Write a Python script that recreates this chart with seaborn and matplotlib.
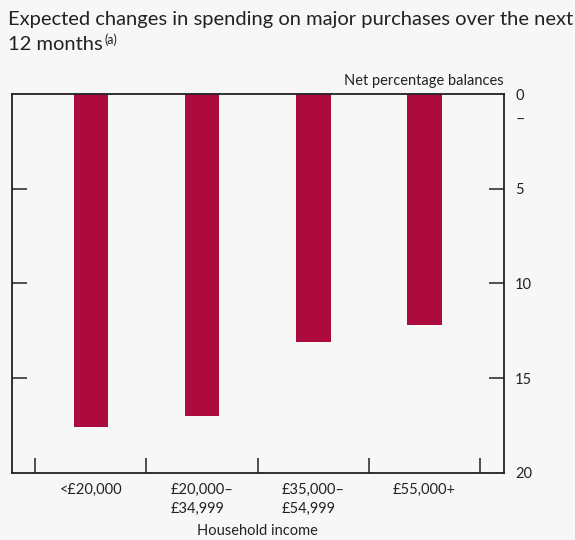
import matplotlib
matplotlib.use("Agg")
import matplotlib.pyplot as plt
import matplotlib.transforms as mtransforms
import pandas as pd
import seaborn as sns

# Net percentage balances by household income (negative balances)
income_bands = ["<£20,000", "£20,000–\n£34,999", "£35,000–\n£54,999", "£55,000+"]
net_balance = [-17.6, -17.0, -13.1, -12.2]
ytick_values = [0, -5, -10, -15, -20]
ytick_labels = ["0", "5", "10", "15", "20"]

BG = "#f7f7f7"
BAR = "#ad0b3e"
INK = "#222222"
FONT = ["Lato", "DejaVu Sans"]
SMALL = 10.5

sns.set_theme(style="white")
plt.rcParams["font.family"] = FONT
plt.rcParams["text.color"] = INK
plt.rcParams["axes.labelcolor"] = INK
plt.rcParams["xtick.color"] = INK
plt.rcParams["ytick.color"] = INK

df = pd.DataFrame({"income": income_bands, "balance": net_balance})

fig = plt.figure(figsize=(5.75, 5.4), dpi=100, facecolor=BG)
ax = fig.add_axes([12 / 575, 1 - 472.7 / 540, (504 - 12) / 575, (472.7 - 94) / 540])
ax.set_facecolor(BG)

sns.barplot(data=df, x="income", y="balance", color=BAR, saturation=1,
            width=0.31, ax=ax, edgecolor="none")

ax.set_xlim(-0.708, 3.713)
ax.set_ylim(-20, 0)

for side in ["left", "right", "top", "bottom"]:
    ax.spines[side].set_visible(True)
    ax.spines[side].set_color(INK)
    ax.spines[side].set_linewidth(1.3)

# y axis: labels on the right, inward ticks on both sides
ax.set_yticks(ytick_values)
ax.set_yticklabels(ytick_labels)
ax.tick_params(axis="y", which="major", direction="in", length=11, width=1.1,
               left=True, right=True, labelleft=False, labelright=True,
               pad=8, labelsize=SMALL)
for lbl in ax.get_yticklabels():
    lbl.set_horizontalalignment("left")
yt = ax.yaxis.get_major_ticks()
for i in (0, len(yt) - 1):
    yt[i].tick1line.set_visible(False)
    yt[i].tick2line.set_visible(False)

# minus sign marking the negative scale
trans = mtransforms.blended_transform_factory(ax.transAxes, ax.transData)
ax.text(1.0 + 11 / 492, -1.37, "–", transform=trans, ha="left", va="center",
        fontsize=11.5, color=INK)

# x axis: boundary ticks between bands, labels centred on bars
ax.set_xticks([-0.5, 0.5, 1.5, 2.5, 3.5])
ax.set_xticklabels([])
ax.set_xticks(range(len(income_bands)), minor=True)
ax.set_xticklabels(income_bands, minor=True, fontsize=SMALL,
                   multialignment="left", linespacing=1.5)
ax.tick_params(axis="x", which="major", direction="in", length=11, width=1.1,
               bottom=True, top=False)
ax.tick_params(axis="x", which="minor", length=0, pad=7)
ax.set_xlabel("")
ax.set_ylabel("")

ax.text(1.0, 1.016, "Net percentage balances", transform=ax.transAxes,
        ha="right", va="bottom", fontsize=SMALL)

fig.text(257 / 575, 1 - 531 / 540, "Household income", ha="center",
         va="center", fontsize=SMALL)

fig.text(8 / 575, 1 - 11 / 540,
         "Expected changes in spending on major purchases over the next",
         ha="left", va="top", fontsize=14.5)
t2 = fig.text(8 / 575, 1 - 36 / 540, "12 months", ha="left", va="top",
              fontsize=14.5)
ax.annotate("(a)", xy=(1, 1), xycoords=t2, xytext=(1, 1.5),
            textcoords="offset points", ha="left", va="top", fontsize=9,
            annotation_clip=False)

fig.savefig("out.png", dpi=100, facecolor=BG)
